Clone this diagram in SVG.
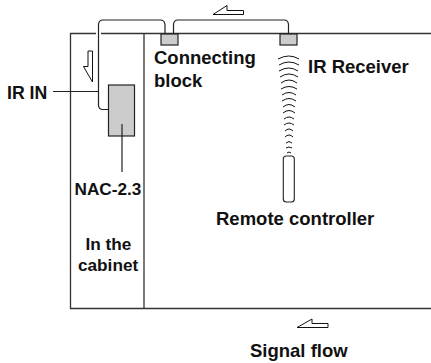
<svg xmlns="http://www.w3.org/2000/svg" width="431" height="363" viewBox="0 0 431 363">
<style>
.ln{fill:none;stroke:#333;stroke-width:1.3}
.wire{fill:none;stroke:#222;stroke-width:1.2}
.blk{fill:#ccc;stroke:#222;stroke-width:1.2}
.arr{fill:#fff;stroke:#111;stroke-width:1}
.wv{fill:none;stroke:#111;stroke-width:1}
text{font-family:"Liberation Sans",Arial,sans-serif;font-weight:bold;font-size:18.500px;fill:#111}
.sm{font-size:17.200px}
</style>
<rect width="431" height="363" fill="#fff"/>
<g id="cabinet"><path class="ln" d="M431 33.500H101M96 33.500H70.500V308.500H431M144 33.500V308.500"/></g>
<g id="connecting-block"><rect class="blk" x="161" y="34" width="17" height="11"/></g>
<g id="ir-receiver"><rect class="blk" x="280" y="34" width="17" height="11"/></g>
<g id="nac"><rect class="blk" x="108.500" y="85" width="26" height="51"/></g>
<g id="remote"><rect x="283.300" y="156" width="11" height="46" rx="3" fill="#fff" stroke="#222" stroke-width="1.100"/></g>
<g id="connectors">
<path class="wire" d="M108.500 109.500H103Q98.500 109.500 98.500 105V25Q98.500 20 103 20H160Q165 20 165 25V33"/>
<path class="wire" d="M173.500 33V25Q173.500 20 178 20H284Q288.500 20 288.500 25V33"/>
<path class="wire" d="M53 91.500H98M122 124V172"/>
</g>
<g id="signal-arrows">
<path class="arr" d="M213 14.500L227 5.500V10.500H243.500V14.500Z"/>
<path class="arr" d="M297 327.500L312 319V323.500H328V327.500Z"/>
<path class="arr" d="M88 51H92.500V82L83.500 66.500H88Z"/>
</g>
<g id="ir-waves">
<path class="wv" d="M278 59Q289 53 299 59M279 65Q289 59 299 65M279 71Q289 65 298 71M280 77Q289 71 298 77M281 83Q289 77 297 83M281 89Q289 84 297 89M282 95Q289 90 296 95M282 101Q289 96 296 101M283 107Q289 102 295 107M283 113Q289 108 295 113M284 119Q289 115 294 119M284 125Q289 121 294 125M285 131Q289 127 293 131M285 137Q289 133 293 137M286 143Q289 140 292 143M286 148Q289 146 292 148M287 153Q289 151 291 153"/>
</g>
<g id="labels">
<text class="sm" x="7" y="99" style="font-size:17.700px">IR IN</text>
<text x="154" y="64">Connecting</text>
<text x="154" y="86.500">block</text>
<text x="308" y="72.500">IR Receiver</text>
<text class="sm" x="74.500" y="195">NAC-2.3</text>
<text class="sm" x="85.500" y="250">In the</text>
<text class="sm" x="78" y="271">cabinet</text>
<text x="216" y="225">Remote controller</text>
<text x="250" y="356.500">Signal flow</text>
</g>
</svg>
